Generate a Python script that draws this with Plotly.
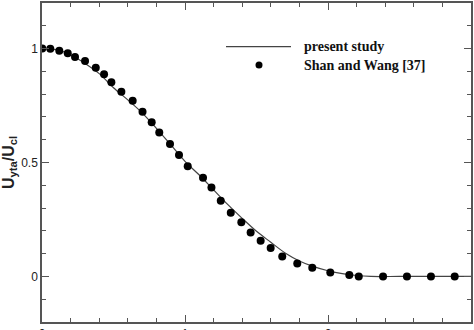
import plotly.graph_objects as go

# present study (line)
line_x = [0.0, 0.1, 0.2, 0.3, 0.4, 0.5, 0.6, 0.7, 0.8, 0.9, 1.0, 1.1, 1.2, 1.3, 1.4,
          1.5, 1.6, 1.7, 1.8, 1.9, 2.0, 2.1, 2.2, 2.3, 2.5, 2.7, 3.0]
line_y = [1.0, 0.995, 0.973, 0.935, 0.89, 0.828, 0.775, 0.718, 0.65, 0.578, 0.505,
          0.445, 0.38, 0.315, 0.255, 0.198, 0.15, 0.103, 0.068, 0.043, 0.025, 0.012,
          0.004, 0.0, 0.0, 0.0, 0.0]

# Shan and Wang [37] (dots)
sw_x = [0.002, 0.058, 0.121, 0.180, 0.231, 0.301, 0.376, 0.434, 0.485, 0.555, 0.634,
        0.703, 0.767, 0.820, 0.895, 0.958, 1.019, 1.126, 1.185, 1.250, 1.320, 1.394,
        1.459, 1.529, 1.599, 1.680, 1.785, 1.890, 2.016, 2.149, 2.215, 2.385, 2.552,
        2.720, 2.886]
sw_y = [1.0, 0.999, 0.990, 0.980, 0.963, 0.945, 0.916, 0.887, 0.852, 0.810, 0.771,
        0.723, 0.677, 0.632, 0.581, 0.533, 0.483, 0.433, 0.390, 0.332, 0.280, 0.238,
        0.193, 0.157, 0.125, 0.087, 0.057, 0.038, 0.017, 0.006, 0.0, 0.0, 0.0,
        0.0, 0.0]

legend_labels = ["present study", "Shan and Wang [37]"]
y_tickvals = [0, 0.5, 1]
y_ticktext = ["0", "0.5", "1"]
x_tickvals = [0, 1, 2, 3]
x_ticktext = ["0", "1", "2", "3"]

fig = go.Figure()
fig.add_trace(go.Scatter(x=line_x, y=line_y, mode="lines", line=dict(color="#444", width=1.2, shape="spline"),
                         name=legend_labels[0], showlegend=False))
fig.add_trace(go.Scatter(x=sw_x, y=sw_y, mode="markers", marker=dict(color="black", size=8),
                         name=legend_labels[1], showlegend=False))

axis_common = dict(showgrid=False, zeroline=False, showline=True, linecolor="#555", linewidth=1.5,
                   mirror="allticks", ticks="inside", ticklen=7, tickcolor="#555", tickwidth=1,
                   automargin=False,
                   tickfont=dict(family="Liberation Sans, Arial", size=12, color="#222"))

fig.update_xaxes(range=[0, 3], tickvals=x_tickvals, ticktext=x_ticktext,
                 minor=dict(dtick=0.2, ticks="inside", ticklen=4, tickcolor="#555"),
                 **axis_common)
fig.update_yaxes(range=[-0.2, 1.2], tickvals=y_tickvals, ticktext=y_ticktext,
                 minor=dict(dtick=0.1, ticks="inside", ticklen=4, tickcolor="#555"),
                 title=dict(text="<b>U<sub>yta</sub>/U<sub>cl</sub></b>", standoff=4,
                            font=dict(family="Liberation Sans, Arial", size=16, color="#222")),
                 **axis_common)

# legend drawn in paper coordinates
fig.add_shape(type="line", xref="paper", yref="paper", x0=(226-42)/429, x1=(291-42)/429,
              y0=(322-46.7)/319, y1=(322-46.7)/319, line=dict(color="#444", width=1.2))
cx = (259-42)/429
cy = (322-65)/319
fig.add_shape(type="circle", xref="paper", yref="paper", x0=cx-3.5/429, x1=cx+3.5/429,
              y0=cy-3.5/319, y1=cy+3.5/319, fillcolor="black", line=dict(color="black", width=0))
for lab, py in zip(legend_labels, [46.7, 65]):
    fig.add_annotation(x=(302-42)/429, y=(322-py)/319, xref="paper", yref="paper", text="<b>"+lab+"</b>",
                       showarrow=False, xanchor="left", yanchor="middle",
                       font=dict(family="Liberation Serif, Times New Roman", size=14, color="#111"))

fig.update_layout(width=474, height=330, margin=dict(l=42, r=3, t=3, b=8),
                  plot_bgcolor="white", paper_bgcolor="white")
fig.write_html("out.html")
